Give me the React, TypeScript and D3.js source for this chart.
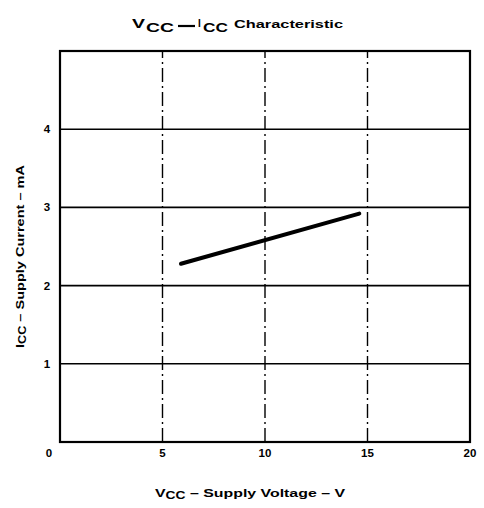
import React from "react";
import * as d3 from "d3";

const xTicks = [5, 10, 15, 20];
const yTicks = [1, 2, 3, 4];
const xGrid = [5, 10, 15];
const yGrid = [1, 2, 3, 4];
const vcc = [5.9, 14.6];
const icc = [2.28, 2.92];

const W = 484, H = 508;
const M = { left: 60, right: 14, top: 51, bottom: 66 };
const FONT = "'Liberation Sans', Arial, sans-serif";

export default function App() {
  const x = d3.scaleLinear().domain([0, 20]).range([M.left, W - M.right]);
  const y = d3.scaleLinear().domain([0, 5]).range([H - M.bottom, M.top]);
  const pts = vcc.map((v, i) => [v, icc[i]] as [number, number]);
  const line = d3.line<[number, number]>().x(d => x(d[0])).y(d => y(d[1]));
  return (
    <svg width={W} height={H} style={{ position: "absolute", left: 0, top: 0, background: "#fff" }}
      fontFamily={FONT} fontWeight="bold">
      <g fill="#000">
        <text x={132} y={28} fontSize={12} textLength={13} lengthAdjust="spacingAndGlyphs">V</text>
        <text x={146} y={32} fontSize={12} textLength={28} lengthAdjust="spacingAndGlyphs">CC</text>
        <line x1={178} x2={195} y1={26} y2={26} stroke="#000" strokeWidth={2.2} />
        <text x={198} y={27} fontSize={10}>I</text>
        <text x={203} y={32} fontSize={12} textLength={25} lengthAdjust="spacingAndGlyphs">CC</text>
        <text x={234} y={28} fontSize={10} textLength={109} lengthAdjust="spacingAndGlyphs">Characteristic</text>
      </g>
      {yGrid.map(v => (
        <line key={"h" + v} x1={x(0)} x2={x(20)} y1={y(v)} y2={y(v)} stroke="#000" strokeWidth={1.6} />
      ))}
      {xGrid.map(v => (
        <line key={"v" + v} x1={x(v)} x2={x(v)} y1={y(0)} y2={y(5)} stroke="#000" strokeWidth={1.4}
          strokeDasharray="14,4,2,4" />
      ))}
      <rect x={x(0)} y={y(5)} width={x(20) - x(0)} height={y(0) - y(5)} fill="none" stroke="#000" strokeWidth={2.2} />
      <path d={line(pts) || ""} fill="none" stroke="#000" strokeWidth={4} strokeLinecap="round" />
      <text x={49} y={457} textAnchor="middle" fontSize={11.5}>0</text>
      {xTicks.map(v => (
        <text key={"xt" + v} x={x(v)} y={457} textAnchor="middle" fontSize={11.5}>{v}</text>
      ))}
      {yTicks.map(v => (
        <text key={"yt" + v} x={47} y={y(v) + 4} textAnchor="middle" fontSize={11.5}>{v}</text>
      ))}
      <text x={155} y={497} fontSize={11.5} textLength={190} lengthAdjust="spacingAndGlyphs">
        <tspan>V</tspan><tspan fontSize={10} dy={2}>CC</tspan><tspan dy={-2}> – Supply  Voltage – V</tspan>
      </text>
      <text transform={`translate(24,348) rotate(-90)`} fontSize={11.5} textLength={183} lengthAdjust="spacingAndGlyphs">
        <tspan>I</tspan><tspan fontSize={10} dy={2}>CC</tspan><tspan dy={-2}> – Supply  Current – mA</tspan>
      </text>
    </svg>
  );
}
